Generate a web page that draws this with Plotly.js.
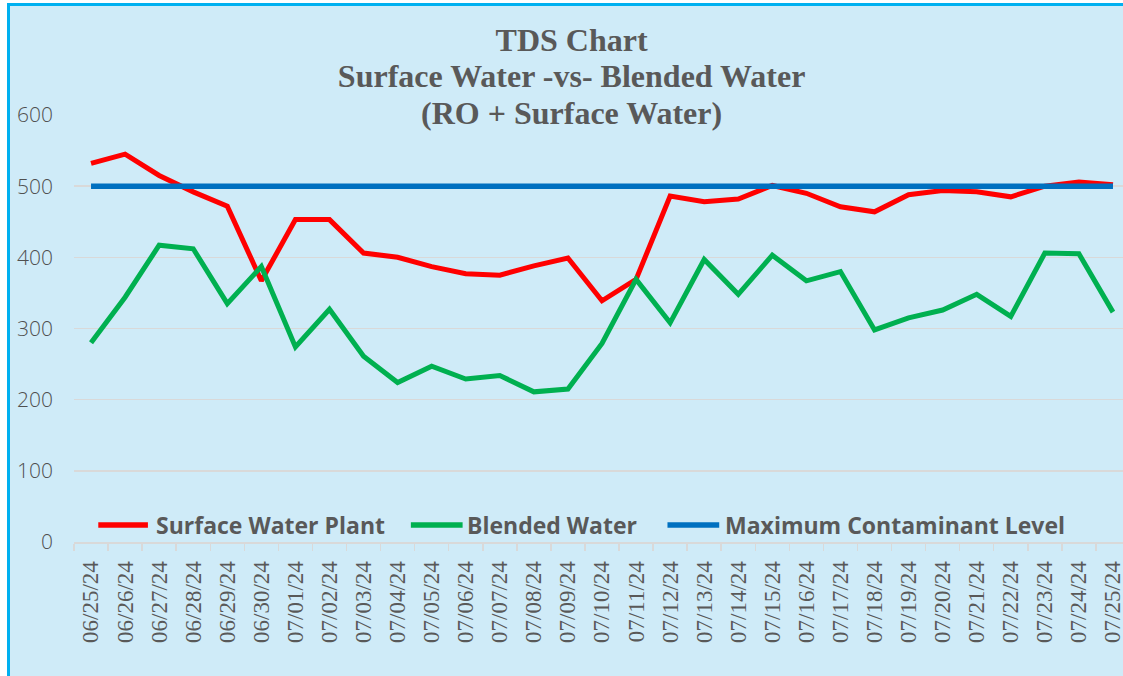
<!DOCTYPE html>
<html>
<head>
<meta charset="utf-8">
<script src="https://cdn.plot.ly/plotly-3.0.1.min.js"></script>
<style>
html, body { margin:0; padding:0; background:#ffffff; overflow:hidden; width:1123px; height:676px; }
#frame { position:absolute; left:7px; top:3px; width:1140px; height:680px; background:#CFEBF8;
  border-left:3px solid #00B0F0; border-top:3px solid #00B0F0; }
#chart { position:absolute; left:0; top:0; }
</style>
</head>
<body>
<div id="frame"><div id="chart"></div></div>
<script>
const dates = ["06/25/24","06/26/24","06/27/24","06/28/24","06/29/24","06/30/24","07/01/24","07/02/24","07/03/24","07/04/24","07/05/24","07/06/24","07/07/24","07/08/24","07/09/24","07/10/24","07/11/24","07/12/24","07/13/24","07/14/24","07/15/24","07/16/24","07/17/24","07/18/24","07/19/24","07/20/24","07/21/24","07/22/24","07/23/24","07/24/24","07/25/24"];
const surfaceWaterPlant = [532,545,515,492,472,367,453,453,406,400,387,377,375,388,399,339,369,486,478,482,501,490,471,464,488,494,492,485,500,506,502];
const blendedWater = [280,344,417,412,335,387,274,327,261,224,247,229,234,211,215,279,369,308,397,348,403,367,380,298,315,326,348,317,406,405,323];
const maxContaminantLevel = [500,500,500,500,500,500,500,500,500,500,500,500,500,500,500,500,500,500,500,500,500,500,500,500,500,500,500,500,500,500,500];
const yTicks = [0,100,200,300,400,500,600];
const seriesNames = ['Surface Water Plant', 'Blended Water', 'Maximum Contaminant Level'];
const seriesColors = ['#FF0000', '#00B050', '#0070C0'];

const grey = '#595959';
const traces = [
  {x: dates, y: surfaceWaterPlant, name: seriesNames[0], type: 'scatter', mode: 'lines',
   line: {color: seriesColors[0], width: 5}},
  {x: dates, y: blendedWater, name: seriesNames[1], type: 'scatter', mode: 'lines',
   line: {color: seriesColors[1], width: 5}},
  {x: dates, y: maxContaminantLevel, name: seriesNames[2], type: 'scatter', mode: 'lines',
   line: {color: seriesColors[2], width: 5.5}}
];

// Custom legend (long line swatches as in the reference), placed in plot-area fractions
const legendY = 0.04;
const legendSwatch = [[0.023, 0.070], [0.319, 0.368], [0.562, 0.611]];
const legendTextX = [0.0765, 0.371, 0.6155];
const shapes = legendSwatch.map((s, i) => ({
  type: 'line', xref: 'paper', yref: 'paper', x0: s[0], x1: s[1], y0: legendY, y1: legendY,
  line: {color: seriesColors[i], width: 5.5}
}));
const annotations = seriesNames.map((n, i) => ({
  text: n, xref: 'paper', yref: 'paper', x: legendTextX[i], y: legendY,
  xanchor: 'left', yanchor: 'middle', showarrow: false, borderpad: 0,
  font: {family: '"Open Sans", sans-serif', size: 23, color: grey, weight: 'bold'}
}));

const layout = {
  width: 1130, height: 670,
  margin: {l: 64, r: 10, t: 109, b: 134},
  paper_bgcolor: 'rgba(0,0,0,0)',
  plot_bgcolor: 'rgba(0,0,0,0)',
  title: {
    text: '<span style="font-size:32px">TDS Chart</span><br><span style="font-size:32px">Surface Water -vs- Blended Water</span><br><span style="font-size:32px">(RO + Surface Water)</span>',
    font: {family: '"Liberation Serif", "Times New Roman", serif', size: 28, color: grey, weight: 'bold'},
    x: 0.497, xref: 'container', xanchor: 'center',
    y: 0.933, yref: 'container', yanchor: 'top'
  },
  xaxis: {
    type: 'category',
    tickangle: -90,
    tickson: 'boundaries',
    ticks: 'outside', ticklen: 7, tickcolor: '#D9D9D9', tickwidth: 1.5,
    showline: true, linecolor: '#D9D9D9', linewidth: 2,
    showgrid: false,
    ticklabelstandoff: 8,
    tickfont: {family: 'Liberation Serif', size: 23, color: grey},
    range: [-0.5, 30.5]
  },
  yaxis: {
    range: [0, 600],
    tickvals: yTicks,
    ticktext: yTicks.map(String),
    showgrid: true, gridcolor: '#D9D9D9', gridwidth: 1.5,
    zeroline: false, showline: false,
    ticks: '', ticklabelstandoff: 20,
    tickfont: {family: '"Open Sans", sans-serif', size: 21, color: '#505050', weight: 300}
  },
  showlegend: false,
  shapes: shapes,
  annotations: annotations
};

Plotly.newPlot('chart', traces, layout, {displayModeBar: false, staticPlot: true});
</script>
</body>
</html>
